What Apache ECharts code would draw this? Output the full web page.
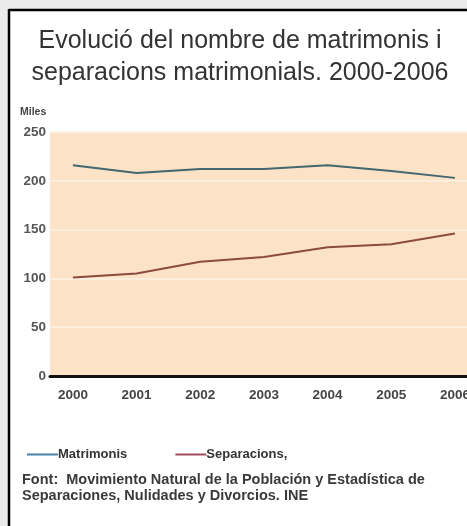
<!DOCTYPE html>
<html>
<head>
<meta charset="utf-8">
<script src="https://cdn.jsdelivr.net/npm/echarts@6/dist/echarts.min.js"></script>
<style>
  html, body { margin: 0; padding: 0; background: #ebebeb; overflow: hidden; }
  #chart { width: 467px; height: 526px; }
</style>
</head>
<body>
<div id="chart"></div>
<script>
const years = [2000, 2001, 2002, 2003, 2004, 2005, 2006];
const matrimonis = [216, 208, 212, 212, 216, 210, 203];
const separacions = [101, 105, 117, 122, 132, 135, 146];
const yTicks = [0, 50, 100, 150, 200, 250];

const chart = echarts.init(document.getElementById('chart'), null, { renderer: 'canvas' });
const pair = (arr) => years.map((y, i) => [y, arr[i]]);

chart.setOption({
  backgroundColor: 'transparent',
  animation: false,
  graphic: [
    { type: 'rect', z: -10, shape: { x: 9, y: 10, width: 700, height: 700 },
      style: { fill: '#ffffff' } },
    { type: 'line', z: -9, shape: { x1: 9, y1: 10, x2: 700, y2: 10 },
      style: { stroke: '#000000', lineWidth: 2.5 } },
    { type: 'line', z: -9, shape: { x1: 9, y1: 9, x2: 9, y2: 700 },
      style: { stroke: '#000000', lineWidth: 2.5 } },
    { type: 'text', left: 20, top: 107, z: 5,
      style: { text: 'Miles', font: 'bold 10.5px "Liberation Sans"', fill: '#444' } },
    { type: 'text', left: 22, top: 472, z: 5,
      style: { text: 'Font:  Movimiento Natural de la Población y Estadística de\nSeparaciones, Nulidades y Divorcios. INE',
               font: 'bold 14.5px "Liberation Sans"', fill: '#3a3a3a', lineHeight: 16 } }
  ],
  title: {
    text: 'Evolució del nombre de matrimonis i\nseparacions matrimonials. 2000-2006',
    left: 235, textAlign: 'center', top: 20,
    textStyle: { fontFamily: 'Liberation Sans', fontSize: 25, fontWeight: 'normal', color: '#333', lineHeight: 32 }
  },
  legend: {
    left: 22, top: 443, itemGap: 48, itemWidth: 31, itemHeight: 2, icon: 'rect',
    textStyle: { fontFamily: 'Liberation Sans', fontWeight: 'bold', fontSize: 13, color: '#333', padding: [0, 0, 0, -5] },
    data: [
      { name: 'Matrimonis', itemStyle: { color: '#4a7fa6' } },
      { name: 'Separacions,', itemStyle: { color: '#a04a5c' } }
    ]
  },
  grid: { left: 50, right: 0, top: 132, bottom: 150, outerBoundsMode: 'none',
          show: true, backgroundColor: '#fce3c7', borderWidth: 0 },
  xAxis: {
    type: 'value', min: 1999.64, max: 2006.19,
    axisLine: { show: true, onZero: false, lineStyle: { color: '#111', width: 3 } },
    axisTick: { show: false },
    splitLine: { show: false },
    axisLabel: {
      customValues: years, margin: 12, hideOverlap: false,
      formatter: (v) => String(v),
      fontFamily: 'Liberation Sans', fontSize: 13.5, fontWeight: 'bold', color: '#444'
    }
  },
  yAxis: {
    type: 'value', min: 0, max: 250, interval: 50,
    axisLine: { show: false },
    axisTick: { show: false },
    splitLine: { show: true, lineStyle: { color: '#fdf2e6', width: 1.5 } },
    axisLabel: {
      customValues: yTicks, margin: 4,
      fontFamily: 'Liberation Sans', fontSize: 13.5, fontWeight: 'bold', color: '#555'
    }
  },
  series: [
    { name: 'Matrimonis', type: 'line', data: pair(matrimonis), symbol: 'none',
      lineStyle: { color: '#44666f', width: 2 }, itemStyle: { color: '#4a7fa6' } },
    { name: 'Separacions,', type: 'line', data: pair(separacions), symbol: 'none',
      lineStyle: { color: '#8d4a40', width: 2 }, itemStyle: { color: '#a04a5c' } }
  ]
});
</script>
</body>
</html>
